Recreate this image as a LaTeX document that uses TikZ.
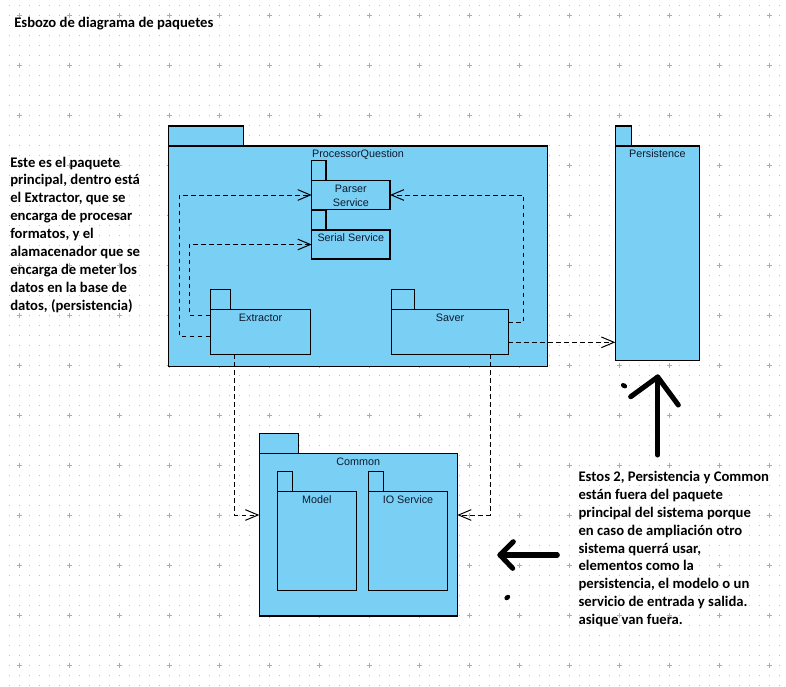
\documentclass[tikz,border=0pt]{standalone}
\usepackage{fontspec}
\setmainfont{Carlito}
\newfontfamily\umlfont{Liberation Sans}
\usetikzlibrary{arrows.meta,fit}

\definecolor{pkgfill}{RGB}{122,207,244}
\definecolor{gridc}{RGB}{192,192,192}
\definecolor{crossc}{RGB}{172,172,172}
\definecolor{umltext}{RGB}{12,26,48}

\tikzset{
  pkgline/.style={draw=black, line width=0.9pt, fill=pkgfill},
  pkgbody/.style={pkgline, rectangle, inner sep=0pt, outer sep=0pt},
  pkgname/.style={font=\umlfont\fontsize{8.1}{11}\selectfont, text=umltext,
    inner sep=0pt, align=center, anchor=base},
  dep/.style={draw=black, line width=0.75pt, dash pattern=on 3.6pt off 2.4pt,
    -{Straight Barb[length=9.5pt,width=8pt,line width=0.75pt]}},
  note/.style={font=\bfseries\fontsize{11}{13.4}\selectfont, align=left,
    inner sep=0pt, anchor=base west},
  hand/.style={draw=black, line width=3.8pt, line cap=round, line join=round},
}

% UML package: [baseline of last title line below top], name, left, top,
% right, bottom, tab width, title
\newcommand\umlpkg[8][8.8pt]{%
  \draw[pkgline] (#3,#4) rectangle (#3+#7,#4-20);
  \node[pkgbody, fit={(#3,#4) (#5,#6)}] (#2) {};
  \node[pkgname] (#2-name) at ([yshift=-#1]#2.north) {#8};
}

\begin{document}
\begin{tikzpicture}[x=0.75pt, y=-0.75pt]
\useasboundingbox (0,0) rectangle (786,686);
\fill[white] (0,0) rectangle (786,686);

% dotted grid with crosses every fifth dot
\foreach \y in {5,15,...,685}
  \draw[gridc, line width=0.75pt, dash pattern=on 0.75pt off 6.75pt] (8.5,\y) -- (786,\y);
\foreach \x in {19,69,...,769}
  \foreach \y in {15,65,...,665}
    \draw[crossc, line width=0.75pt] (\x-2.5,\y) -- (\x+2.5,\y) (\x,\y-2.5) -- (\x,\y+2.5);

% packages
\umlpkg{pq}{168.3}{146}{547.7}{366.7}{75}{ProcessorQuestion}
\umlpkg[19.6pt]{parser}{311.7}{180.7}{390}{209.3}{14.3}{Parser\\Service}
\umlpkg{serial}{311.7}{230}{390}{259}{14.3}{Serial Service}
\umlpkg{ext}{210.3}{309.3}{310.7}{354.3}{20.4}{Extractor}
\umlpkg{saver}{391.7}{309.3}{508.3}{354.3}{23}{Saver}
\umlpkg{persist}{615.3}{146}{699.3}{360.3}{16}{Persistence}
\umlpkg{common}{259.3}{453.3}{457.3}{616}{39.4}{Common}
\umlpkg{model}{277.3}{491.3}{356.3}{590.3}{15}{Model}
\umlpkg{io}{368.7}{491.3}{447.3}{590.3}{14.6}{IO Service}

% dependencies
\draw[dep] (ext.west |- 0,336.3) -- ++(-31,0) |- (parser.west);
\draw[dep] (ext.west |- 0,315) -- ++(-21.3,0) |- (serial.west);
\draw[dep] (saver.east |- 0,322.3) -- ++(15,0) |- (parser.east);
\draw[dep] (saver.east |- 0,342.3) -- (persist.west |- 0,342.3);
\draw[dep] (ext.south -| 234.3,0) |- (common.west |- 0,515);
\draw[dep] (saver.south -| 490,0) |- (common.east |- 0,515);

% notes (anchored on the baseline of their last line)
\node[note] (title) at (14,27.3) {Esbozo de diagrama de paquetes};
\node[note] (leftnote) at (10,310) {Este es el paquete\\principal, dentro está\\el Extractor, que se\\encarga de procesar\\formatos, y el\\alamacenador que se\\encarga de meter los\\datos en la base de\\datos, (persistencia)};
\node[note] (rightnote) at (578.3,624.5) {Estos 2, Persistencia y Common\\están fuera del paquete\\principal del sistema porque\\en caso de ampliación otro\\sistema querrá usar,\\elementos como la\\persistencia, el modelo o un\\servicio de entrada y salida.\\asique van fuera.};

% hand-drawn marks
\draw[hand] (657.7,455) -- (657.7,377);
\draw[hand] (630.7,396.7) -- (657.7,377) -- (678.3,405);
\draw[hand] (557.3,555) -- (500,555);
\draw[hand] (513.3,541.7) -- (500,555) -- (512.7,568.3);
\fill[rotate around={-30:(624,385.7)}] (624,385.7) ellipse [x radius=3.4, y radius=2.4];
\fill[rotate around={40:(507.3,597.5)}] (507.3,597.5) ellipse [x radius=3.2, y radius=2.4];
\end{tikzpicture}
\end{document}
